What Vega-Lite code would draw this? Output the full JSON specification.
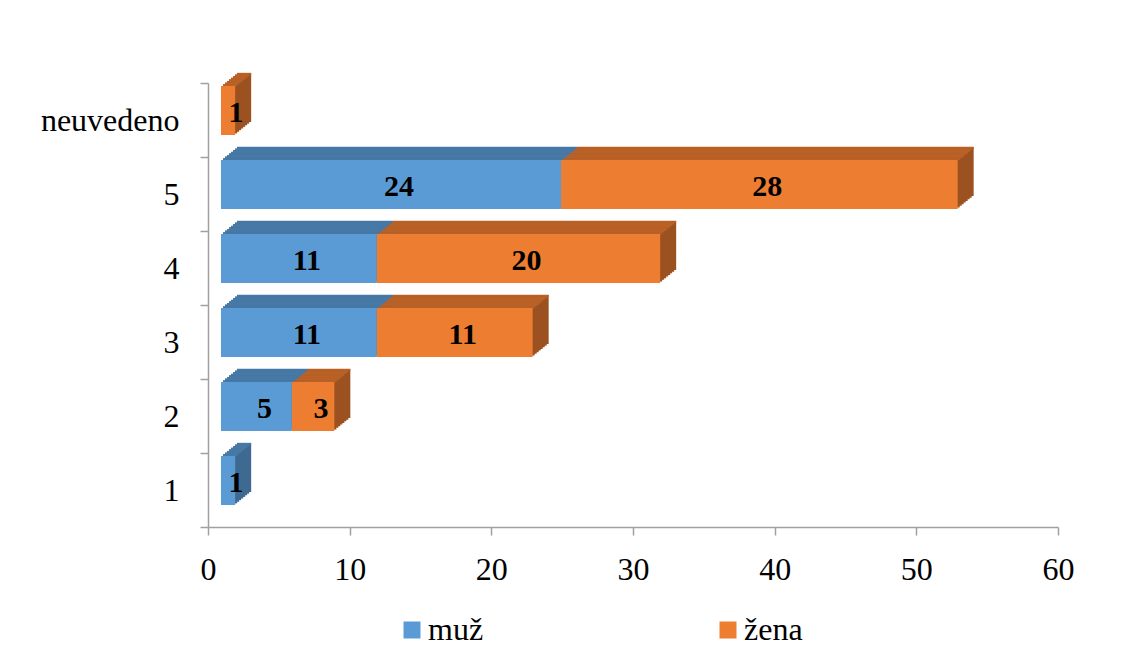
{
  "$schema": "https://vega.github.io/schema/vega-lite/v6.json",
  "autosize": {"type": "none"},
  "width": 850,
  "height": 444,
  "padding": {"left": 208, "top": 83, "right": 84, "bottom": 131},
  "background": "white",
  "config": {
    "view": {"stroke": null},
    "font": "Liberation Serif",
    "axis": {
      "labelFont": "Liberation Serif",
      "labelFontSize": 32,
      "labelColor": "#000000",
      "domainColor": "#A0A0A0",
      "domainWidth": 1.5,
      "tickColor": "#A0A0A0",
      "tickWidth": 1.5,
      "tickSize": 8,
      "grid": false,
      "title": null
    },
    "legend": {
      "labelFont": "Liberation Serif",
      "labelFontSize": 32,
      "labelColor": "#000000"
    }
  },
  "data": {
    "values": [
      {"skupina": "1", "pohlavi": "muž", "pocet": 1},
      {"skupina": "2", "pohlavi": "muž", "pocet": 5},
      {"skupina": "2", "pohlavi": "žena", "pocet": 3},
      {"skupina": "3", "pohlavi": "muž", "pocet": 11},
      {"skupina": "3", "pohlavi": "žena", "pocet": 11},
      {"skupina": "4", "pohlavi": "muž", "pocet": 11},
      {"skupina": "4", "pohlavi": "žena", "pocet": 20},
      {"skupina": "5", "pohlavi": "muž", "pocet": 24},
      {"skupina": "5", "pohlavi": "žena", "pocet": 28},
      {"skupina": "neuvedeno", "pohlavi": "žena", "pocet": 1}
    ]
  },
  "encoding": {
    "y": {
      "field": "skupina",
      "type": "nominal",
      "sort": ["neuvedeno", "5", "4", "3", "2", "1"],
      "scale": {"paddingInner": 0, "paddingOuter": 0},
      "axis": {"tickBand": "extent", "labelPadding": 21, "labelAngle": 0}
    },
    "x": {
      "field": "pocet",
      "type": "quantitative",
      "stack": "zero",
      "scale": {"domain": [0, 60], "nice": false},
      "axis": {"values": [0, 10, 20, 30, 40, 50, 60], "labelPadding": 19, "labelFlush": false}
    },
    "detail": {"field": "pohlavi", "type": "nominal"},
    "order": {"field": "pohlavi", "type": "ordinal", "sort": "ascending"}
  },
  "layer": [
    {"mark": {"type": "bar", "height": 49, "xOffset": 15, "x2Offset": 15, "yOffset": -11.125}, "encoding": {"color": {"condition": {"test": "datum.pohlavi === 'muž'", "value": "#3E6991"}, "value": "#9C5220"}}},
    {"mark": {"type": "bar", "height": 49, "xOffset": 17, "x2Offset": 17, "yOffset": -12.75}, "encoding": {"color": {"condition": {"test": "datum.pohlavi === 'muž'", "value": "#3E6991"}, "value": "#9C5220"}}},
    {"mark": {"type": "bar", "height": 49, "xOffset": 19, "x2Offset": 19, "yOffset": -14.375}, "encoding": {"color": {"condition": {"test": "datum.pohlavi === 'muž'", "value": "#3E6991"}, "value": "#9C5220"}}},
    {"mark": {"type": "bar", "height": 49, "xOffset": 21, "x2Offset": 21, "yOffset": -16}, "encoding": {"color": {"condition": {"test": "datum.pohlavi === 'muž'", "value": "#3E6991"}, "value": "#9C5220"}}},
    {"mark": {"type": "bar", "height": 49, "xOffset": 23, "x2Offset": 23, "yOffset": -17.625}, "encoding": {"color": {"condition": {"test": "datum.pohlavi === 'muž'", "value": "#3E6991"}, "value": "#9C5220"}}},
    {"mark": {"type": "bar", "height": 49, "xOffset": 25, "x2Offset": 25, "yOffset": -19.25}, "encoding": {"color": {"condition": {"test": "datum.pohlavi === 'muž'", "value": "#3E6991"}, "value": "#9C5220"}}},
    {"mark": {"type": "bar", "height": 49, "xOffset": 27, "x2Offset": 27, "yOffset": -20.875}, "encoding": {"color": {"condition": {"test": "datum.pohlavi === 'muž'", "value": "#3E6991"}, "value": "#9C5220"}}},
    {"mark": {"type": "bar", "height": 49, "xOffset": 29, "x2Offset": 29, "yOffset": -22.5}, "encoding": {"color": {"condition": {"test": "datum.pohlavi === 'muž'", "value": "#3E6991"}, "value": "#9C5220"}}},

    {"mark": {"type": "bar", "height": 2, "xOffset": 15, "x2Offset": 15, "yOffset": -34.8125}, "encoding": {"color": {"condition": {"test": "datum.pohlavi === 'muž'", "value": "#4779A6"}, "value": "#B96126"}}},
    {"mark": {"type": "bar", "height": 2, "xOffset": 17, "x2Offset": 17, "yOffset": -36.4375}, "encoding": {"color": {"condition": {"test": "datum.pohlavi === 'muž'", "value": "#4779A6"}, "value": "#B96126"}}},
    {"mark": {"type": "bar", "height": 2, "xOffset": 19, "x2Offset": 19, "yOffset": -38.0625}, "encoding": {"color": {"condition": {"test": "datum.pohlavi === 'muž'", "value": "#4779A6"}, "value": "#B96126"}}},
    {"mark": {"type": "bar", "height": 2, "xOffset": 21, "x2Offset": 21, "yOffset": -39.6875}, "encoding": {"color": {"condition": {"test": "datum.pohlavi === 'muž'", "value": "#4779A6"}, "value": "#B96126"}}},
    {"mark": {"type": "bar", "height": 2, "xOffset": 23, "x2Offset": 23, "yOffset": -41.3125}, "encoding": {"color": {"condition": {"test": "datum.pohlavi === 'muž'", "value": "#4779A6"}, "value": "#B96126"}}},
    {"mark": {"type": "bar", "height": 2, "xOffset": 25, "x2Offset": 25, "yOffset": -42.9375}, "encoding": {"color": {"condition": {"test": "datum.pohlavi === 'muž'", "value": "#4779A6"}, "value": "#B96126"}}},
    {"mark": {"type": "bar", "height": 2, "xOffset": 27, "x2Offset": 27, "yOffset": -44.5625}, "encoding": {"color": {"condition": {"test": "datum.pohlavi === 'muž'", "value": "#4779A6"}, "value": "#B96126"}}},
    {"mark": {"type": "bar", "height": 2, "xOffset": 29, "x2Offset": 29, "yOffset": -46.1875}, "encoding": {"color": {"condition": {"test": "datum.pohlavi === 'muž'", "value": "#4779A6"}, "value": "#B96126"}}},

    {
      "mark": {"type": "bar", "height": 49, "xOffset": 13, "x2Offset": 13, "yOffset": -9.5},
      "encoding": {
        "color": {
          "field": "pohlavi",
          "type": "nominal",
          "scale": {"domain": ["muž", "žena"], "range": ["#5B9BD5", "#ED7D31"]},
          "legend": {
            "title": null,
            "orient": "none",
            "direction": "horizontal",
            "legendX": 188,
            "legendY": 531,
            "symbolType": "square",
            "symbolSize": 289,
            "symbolStrokeWidth": 0,
            "labelOffset": 0,
            "columnPadding": 228
          }
        }
      }
    },
    {
      "mark": {"type": "text", "fontWeight": "bold", "fontSize": 30, "color": "#000000", "xOffset": 21, "yOffset": -7},
      "encoding": {
        "x": {"field": "pocet", "type": "quantitative", "stack": "zero", "bandPosition": 0.5},
        "text": {"field": "pocet", "type": "quantitative"}
      }
    }
  ]
}
